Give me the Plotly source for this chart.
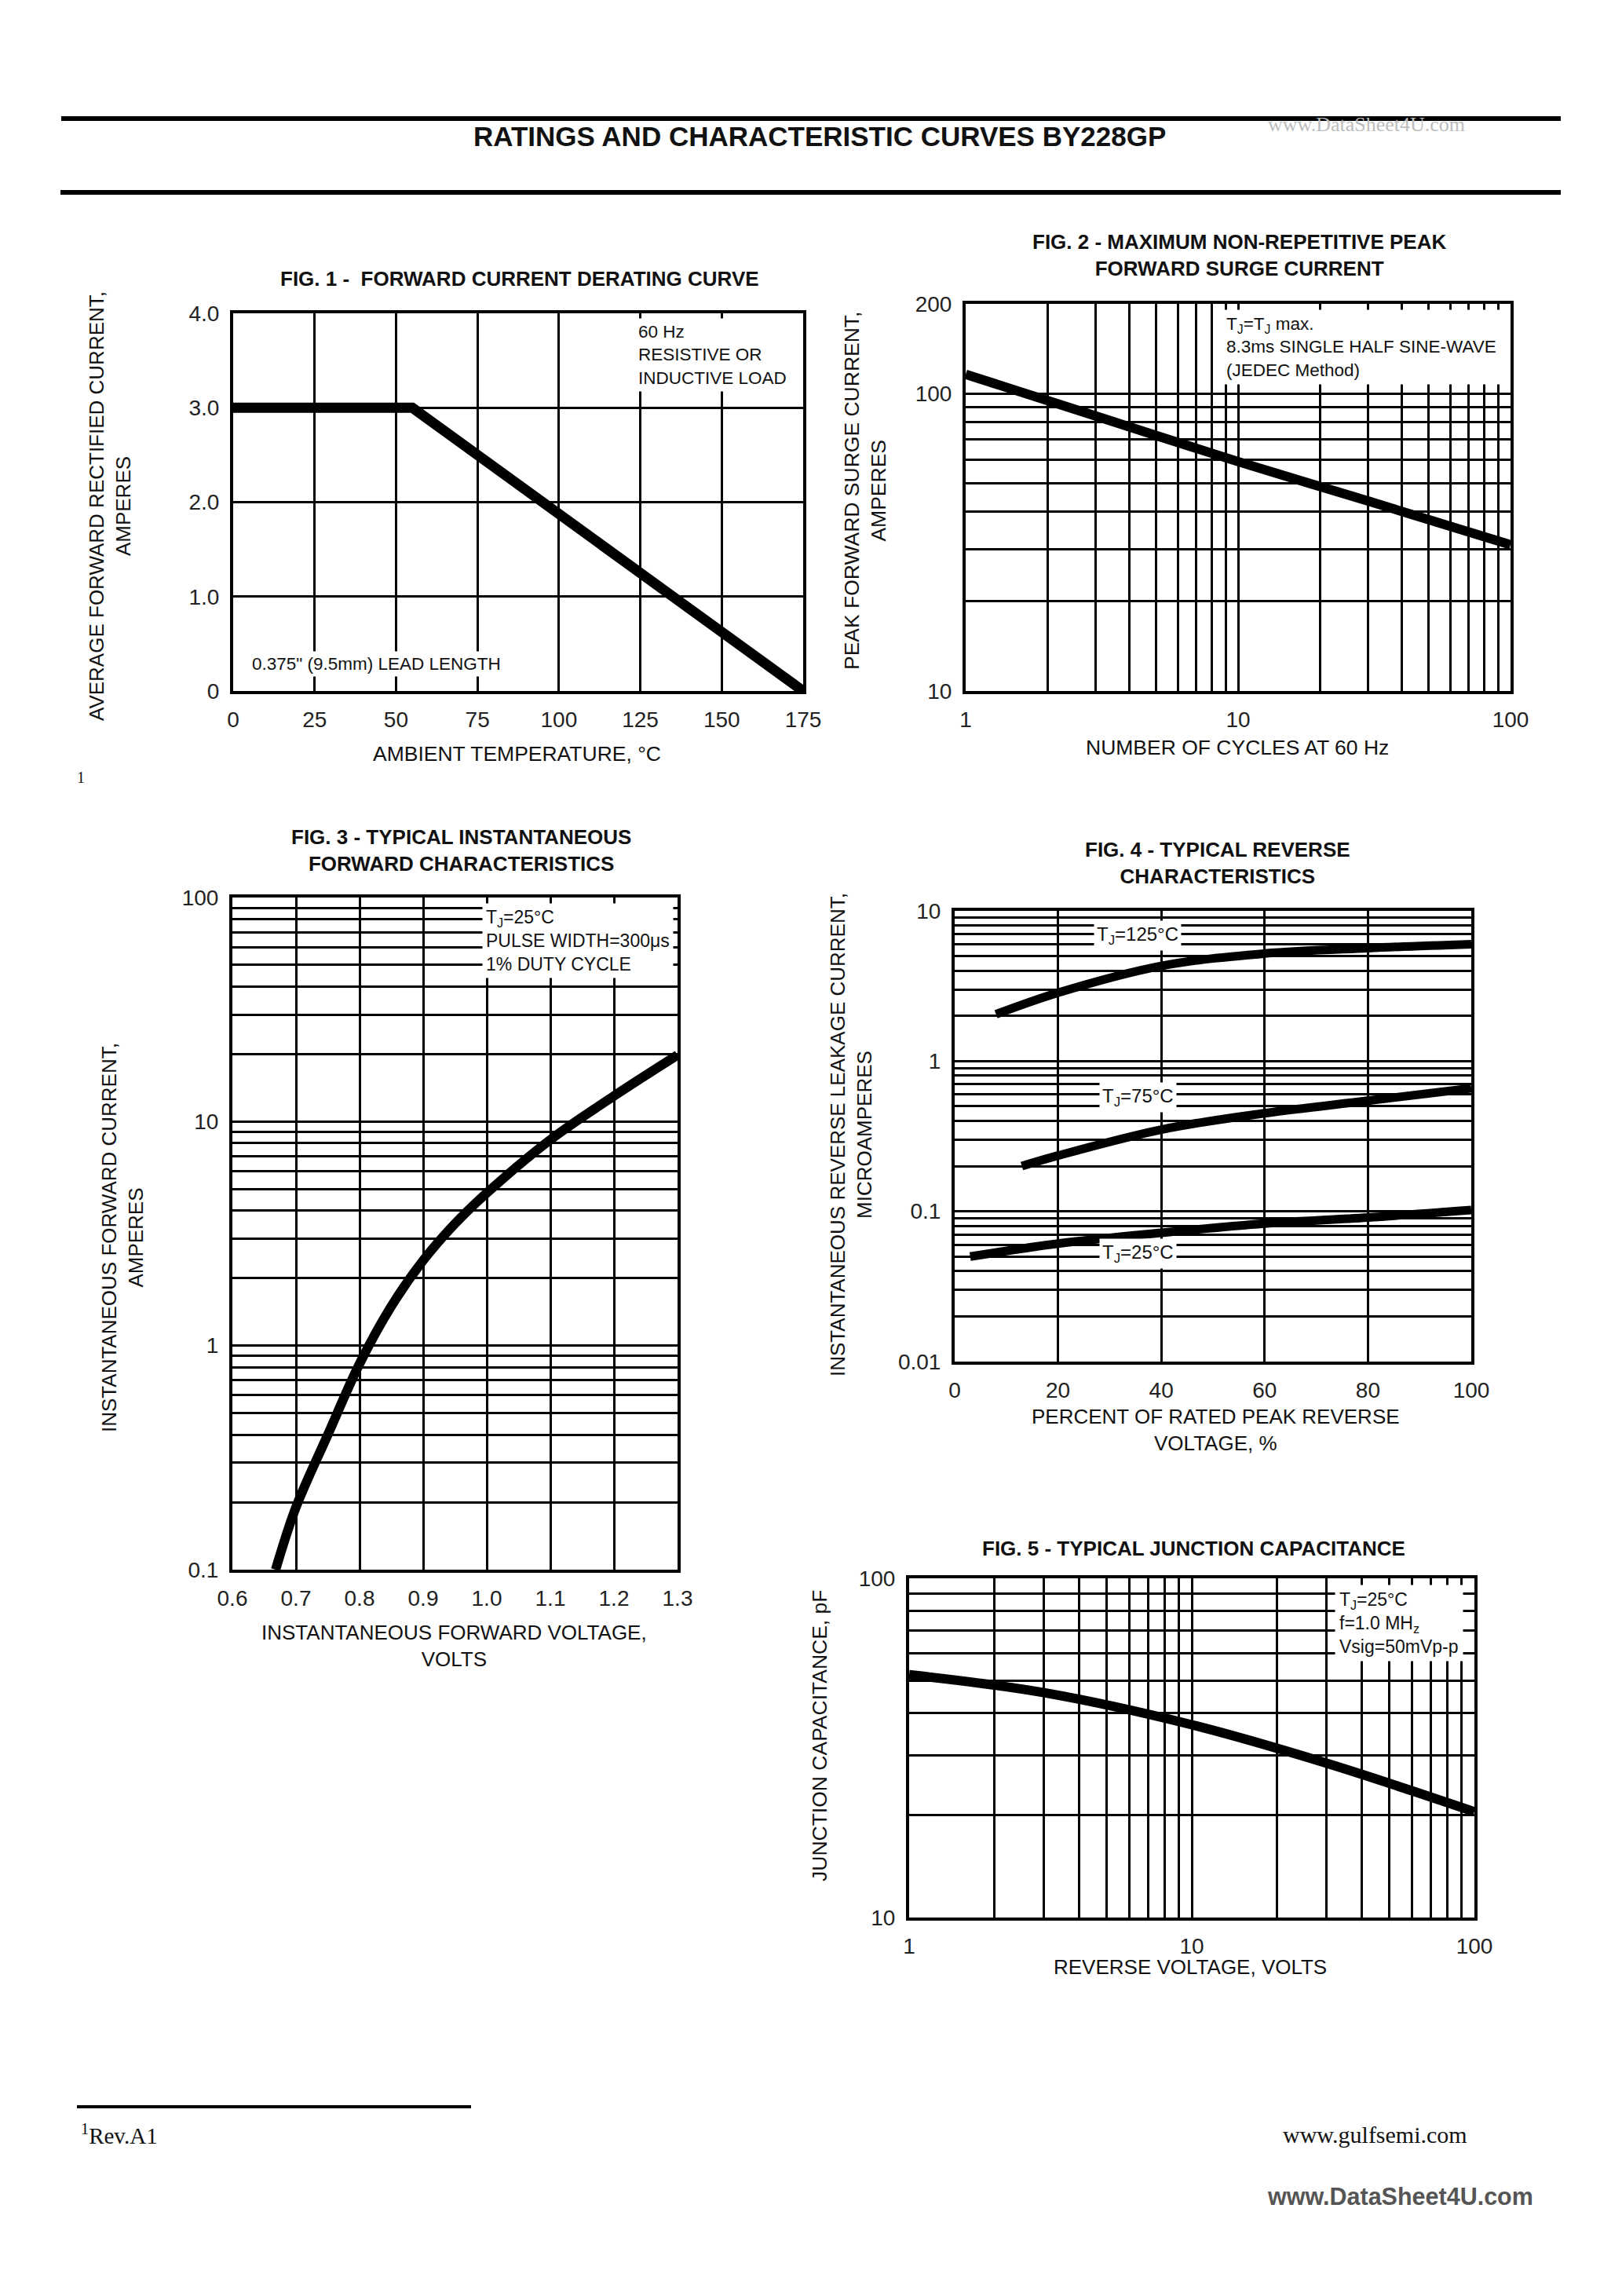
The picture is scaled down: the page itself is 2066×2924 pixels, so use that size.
import plotly.graph_objects as go
import numpy as np

W, H = 2066, 2924
OFF = 8  # page body margin offset

# ---- data ----
fig1_temp = [0, 55, 175]
fig1_current = [3.0, 3.0, 0.0]

fig2_cycles = [1, 3, 10, 30, 100]
fig2_current = [116, 84, 59, 43.5, 31]

fig3_voltage = [0.668, 0.70, 0.75, 0.80, 0.85, 0.90, 0.95, 1.0, 1.1, 1.2, 1.3]
fig3_current = [0.1, 0.19, 0.40, 0.83, 1.5, 2.4, 3.5, 4.8, 8.3, 13.0, 19.8]

fig4_pct_125 = [8, 20, 40, 60, 80, 100]
fig4_ir_125 = [2.05, 2.85, 4.3, 5.2, 5.65, 6.0]
fig4_pct_75 = [13, 20, 40, 60, 80, 100]
fig4_ir_75 = [0.20, 0.235, 0.35, 0.45, 0.545, 0.66]
fig4_pct_25 = [3, 20, 40, 60, 80, 100]
fig4_ir_25 = [0.05, 0.061, 0.072, 0.083, 0.091, 0.102]

fig5_volts = [1, 3, 10, 30, 100]
fig5_cap = [52, 46, 37, 28.5, 20.5]

# tick / grid values
fig1_xticks = [0, 25, 50, 75, 100, 125, 150, 175]
fig1_yticks = [0, 1, 2, 3, 4]
fig1_ylabels = ["0", "1.0", "2.0", "3.0", "4.0"]
fig3_xticks = [0.6, 0.7, 0.8, 0.9, 1.0, 1.1, 1.2, 1.3]
fig3_xlabels = ["0.6", "0.7", "0.8", "0.9", "1.0", "1.1", "1.2", "1.3"]
fig4_xticks = [0, 20, 40, 60, 80, 100]


def log_grid(lo, hi, labelled):
    vals, text = [], []
    d = lo
    while d < hi * 0.999:
        for k in range(1, 10):
            v = round(d * k, 6)
            if v > hi * 1.0001:
                break
            vals.append(v)
            text.append(labelled.get(v, ""))
        d *= 10
    if hi not in vals:
        vals.append(hi)
        text.append(labelled.get(hi, ""))
    return vals, text


fig2_xgrid = log_grid(1, 100, {1: "1", 10: "10", 100: "100"})
fig2_ygrid = ([10, 20, 30, 40, 50, 60, 70, 80, 90, 100, 200],
              ["10", "", "", "", "", "", "", "", "", "100", "200"])
fig3_ygrid = log_grid(0.1, 100, {0.1: "0.1", 1: "1", 10: "10", 100: "100"})
fig4_ygrid = log_grid(0.01, 10, {0.01: "0.01", 0.1: "0.1", 1: "1", 10: "10"})
fig5_xgrid = log_grid(1, 100, {1: "1", 10: "10", 100: "100"})
fig5_ygrid = log_grid(10, 100, {10: "10", 100: "100"})

SANS = "Liberation Sans, Arial, Helvetica"
SERIF = "Liberation Serif, Times New Roman, serif"
TICKFONT = dict(family=SANS, size=28, color="#222")


def fx(px):
    return (px - OFF) / W


def fy(py):
    return 1 - (py - OFF) / H


def axis(box_lo, box_hi, vertical, **kw):
    if vertical:
        dom = [fy(box_hi), fy(box_lo)]
    else:
        dom = [fx(box_lo), fx(box_hi)]
    d = dict(domain=dom, showline=True, mirror=True, linecolor="black", linewidth=4,
             showgrid=True, gridcolor="black", gridwidth=3, zeroline=False, automargin=False,
             ticks="", ticklabelstandoff=8, tickfont=TICKFONT, fixedrange=True)
    d.update(kw)
    return d


fig = go.Figure()

# fig 1
fig.add_trace(go.Scatter(x=fig1_temp, y=fig1_current, mode="lines",
                         line=dict(color="black", width=13), xaxis="x", yaxis="y"))
# fig 2
fig.add_trace(go.Scatter(x=fig2_cycles, y=fig2_current, mode="lines", line_shape="spline",
                         line=dict(color="black", width=12), xaxis="x2", yaxis="y2"))
# fig 3
fig.add_trace(go.Scatter(x=fig3_voltage, y=fig3_current, mode="lines", line_shape="spline",
                         line=dict(color="black", width=12), xaxis="x3", yaxis="y3"))
# fig 4
for xs, ys in [(fig4_pct_125, fig4_ir_125), (fig4_pct_75, fig4_ir_75), (fig4_pct_25, fig4_ir_25)]:
    fig.add_trace(go.Scatter(x=xs, y=ys, mode="lines", line_shape="spline",
                             line=dict(color="black", width=11), xaxis="x4", yaxis="y4"))
# fig 5
fig.add_trace(go.Scatter(x=fig5_volts, y=fig5_cap, mode="lines", line_shape="spline",
                         line=dict(color="black", width=12), xaxis="x5", yaxis="y5"))

fig.update_layout(
    width=W, height=H, margin=dict(l=0, r=0, t=0, b=0, autoexpand=False),
    paper_bgcolor="white", plot_bgcolor="white", showlegend=False,
    xaxis=axis(297, 1023, False, anchor="y", range=[0, 175], tickvals=fig1_xticks),
    yaxis=axis(399, 880, True, anchor="x", range=[0, 4], tickvals=fig1_yticks, ticktext=fig1_ylabels),
    xaxis2=axis(1230, 1924, False, anchor="y2", type="log", range=[0, 2],
                tickvals=fig2_xgrid[0], ticktext=fig2_xgrid[1]),
    yaxis2=axis(387, 880, True, anchor="x2", type="log", range=[1, np.log10(200)],
                tickvals=fig2_ygrid[0], ticktext=fig2_ygrid[1]),
    xaxis3=axis(296, 863, False, anchor="y3", range=[0.6, 1.3], tickvals=fig3_xticks,
                ticktext=fig3_xlabels),
    yaxis3=axis(1143, 1999, True, anchor="x3", type="log", range=[-1, 2],
                tickvals=fig3_ygrid[0], ticktext=fig3_ygrid[1]),
    xaxis4=axis(1216, 1874, False, anchor="y4", range=[0, 100], tickvals=fig4_xticks),
    yaxis4=axis(1160, 1734, True, anchor="x4", type="log", range=[-2, 1],
                tickvals=fig4_ygrid[0], ticktext=fig4_ygrid[1]),
    xaxis5=axis(1158, 1878, False, anchor="y5", type="log", range=[0, 2],
                tickvals=fig5_xgrid[0], ticktext=fig5_xgrid[1]),
    yaxis5=axis(2010, 2442, True, anchor="x5", type="log", range=[1, 2],
                tickvals=fig5_ygrid[0], ticktext=fig5_ygrid[1]),
)


def text(px, py, s, size=26, family=SANS, bold=False, angle=0, xanchor="center",
         align="center", bg=None, color="#111", pad=2):
    if bold:
        s = "<b>" + s.replace("<br>", "</b><br><b>") + "</b>"
    fig.add_annotation(x=fx(px), y=fy(py), xref="paper", yref="paper", text=s,
                       showarrow=False, textangle=angle, xanchor=xanchor, yanchor="middle",
                       align=align, font=dict(family=family, size=size, color=color),
                       bgcolor=bg, borderpad=pad)


# header
fig.add_shape(type="line", xref="paper", yref="paper", x0=fx(78), x1=fx(1988), y0=fy(151), y1=fy(151),
              line=dict(color="black", width=6))
fig.add_shape(type="line", xref="paper", yref="paper", x0=fx(77), x1=fx(1988), y0=fy(245), y1=fy(245),
              line=dict(color="black", width=6))
text(1044, 174, "RATINGS AND CHARACTERISTIC CURVES BY228GP", size=35, bold=True)
text(1740, 158, "www.DataSheet4U.com", size=26, family=SERIF, color="#bdbdbd")

# fig 1 texts
text(662, 355, "FIG. 1 -  FORWARD CURRENT DERATING CURVE", size=26, bold=True)
text(140, 645, "AVERAGE FORWARD RECTIFIED CURRENT,<br>AMPERES", size=26, angle=-90)
text(658, 960, "AMBIENT TEMPERATURE, °C", size=26.5)
text(808, 452, "60 Hz<br>RESISTIVE OR<br>INDUCTIVE LOAD", size=22.5, xanchor="left", align="left",
     bg="white", pad=4)
text(317, 846, "0.375\" (9.5mm) LEAD LENGTH", size=22.5, xanchor="left", bg="white", pad=3)
text(103, 990, "1", size=20, family=SERIF)

# fig 2 texts
text(1578, 325, "FIG. 2 - MAXIMUM NON-REPETITIVE PEAK<br>FORWARD SURGE CURRENT", size=26, bold=True)
text(1102, 625, "PEAK FORWARD SURGE CURRENT,<br>AMPERES", size=26.5, angle=-90)
text(1576, 952, "NUMBER OF CYCLES AT 60 Hz", size=26.5)
text(1556, 442, "T<sub>J</sub>=T<sub>J</sub> max.<br>8.3ms SINGLE HALF SINE-WAVE<br>(JEDEC Method)",
     size=22.5, xanchor="left", align="left", bg="white", pad=5)

# fig 3 texts
text(587, 1083, "FIG. 3 - TYPICAL INSTANTANEOUS<br>FORWARD CHARACTERISTICS", size=26, bold=True)
text(156, 1576, "INSTANTANEOUS FORWARD CURRENT,<br>AMPERES", size=26, angle=-90)
text(578, 2096, "INSTANTANEOUS FORWARD VOLTAGE,<br>VOLTS", size=26)
text(614, 1198, "T<sub>J</sub>=25°C<br>PULSE WIDTH=300μs<br>1% DUTY CYCLE", size=23,
     xanchor="left", align="left", bg="white", pad=4)

# fig 4 texts
text(1551, 1099, "FIG. 4 - TYPICAL REVERSE<br>CHARACTERISTICS", size=26, bold=True)
text(1084, 1445, "INSTANTANEOUS REVERSE LEAKAGE CURRENT,<br>MICROAMPERES", size=26, angle=-90)
text(1548, 1821, "PERCENT OF RATED PEAK REVERSE<br>VOLTAGE, %", size=26)
text(1449, 1191, "T<sub>J</sub>=125°C", size=24, bg="white", pad=3)
text(1449, 1398, "T<sub>J</sub>=75°C", size=24, bg="white", pad=3)
text(1449, 1596, "T<sub>J</sub>=25°C", size=24, bg="white", pad=3)

# fig 5 texts
text(1520, 1972, "FIG. 5 - TYPICAL JUNCTION CAPACITANCE", size=26, bold=True)
text(1044, 2210, "JUNCTION CAPACITANCE, pF", size=26.5, angle=-90)
text(1516, 2505, "REVERSE VOLTAGE, VOLTS", size=26)
text(1700, 2067, "T<sub>J</sub>=25°C<br>f=1.0 MH<sub>z</sub><br>Vsig=50mVp-p", size=23,
     xanchor="left", align="left", bg="white", pad=5)

# footer
fig.add_shape(type="line", xref="paper", yref="paper", x0=fx(98), x1=fx(600), y0=fy(2683), y1=fy(2683),
              line=dict(color="black", width=4))
text(100, 2718, "<sup>1</sup>Rev.A1", size=29, family=SERIF, xanchor="left")
text(1751, 2718, "www.gulfsemi.com", size=30, family=SERIF)
text(1783, 2797, "<b>www.DataSheet4U.com</b>", size=30.5, color="#555")

fig.write_html("out.html")
